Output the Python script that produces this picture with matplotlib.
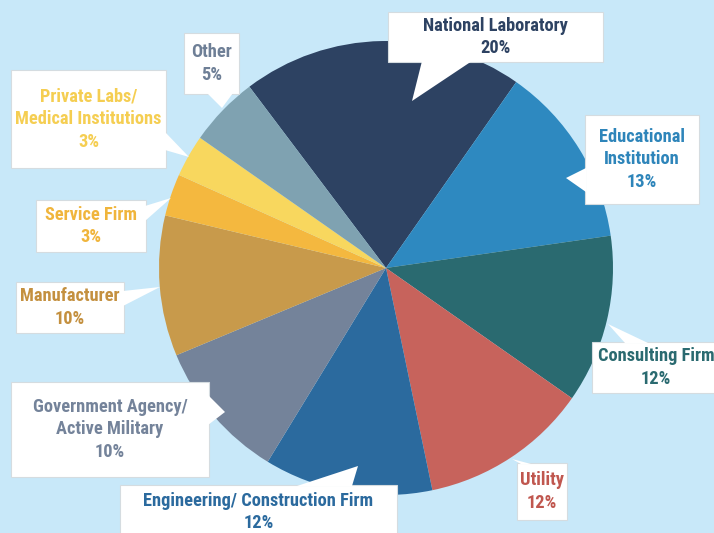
import matplotlib.pyplot as plt
from matplotlib.patches import Rectangle, Polygon

# --- data ---
labels = ['National Laboratory', 'Educational\nInstitution', 'Consulting Firm', 'Utility',
          'Engineering/ Construction Firm', 'Government Agency/\nActive Military', 'Manufacturer',
          'Service Firm', 'Private Labs/\nMedical Institutions', 'Other']
shares = [20, 13, 12, 12, 12, 10, 10, 3, 3, 5]
slice_colors = ['#2D4262', '#2E89C0', '#2A6A70', '#C7635C', '#2B6A9E',
                '#74839A', '#C89A4B', '#F4B83F', '#F8D75E', '#7FA2B1']
text_colors = ['#2D4262', '#2E85BA', '#2A6A70', '#C0574F', '#2B6A9E',
               '#74839A', '#C4903F', '#F0B53C', '#F5CE52', '#6E7F96']

# --- layout (pixel coords, y down): box (x0, y0, x1, y1), pointer (base a, base b, tip) ---
boxes = [(388, 12, 603, 62), (585, 115, 699, 204), (592, 342, 720, 393), (517, 463, 567, 520),
         (120, 485, 397, 545), (11, 382, 209, 477), (16, 282, 124, 333),
         (36, 200, 146, 252), (11, 70, 166, 168), (184, 33, 239, 94)]
pointers = [((422, 61), (472, 61), (412, 101)), ((586, 168), (586, 192), (566, 178)),
            ((625, 343), (648, 343), (608, 324)), ((521, 464), (531, 464), (512, 459)),
            ((297, 486), (352, 486), (358, 466)), ((208, 395), (208, 425), (225, 412)),
            ((123, 291), (123, 306), (160, 287)), ((145, 206), (145, 221), (171, 198)),
            ((165, 132), (165, 150), (189, 157)), ((207, 93), (233, 93), (222, 108))]

W, H = 714, 533
bg = '#C8E8F9'

fig = plt.figure(figsize=(W / 100, H / 100), dpi=100, facecolor=bg)
ax = fig.add_axes([0, 0, 1, 1])


def fy(y):
    return H - y


ax.pie(shares, colors=slice_colors, startangle=127, counterclock=False,
       center=(386, fy(268)), radius=227, wedgeprops=dict(linewidth=0))
ax.set_xlim(0, W)
ax.set_ylim(0, H)
ax.set_aspect('equal')
ax.axis('off')

font = ['Roboto Condensed', 'DejaVu Sans']
for lab, pct, tc, (x0, y0, x1, y1), (a, b, tip) in zip(labels, shares, text_colors, boxes, pointers):
    ax.add_patch(Rectangle((x0, fy(y1)), x1 - x0, y1 - y0, facecolor='white',
                           edgecolor='#D5DCE0', linewidth=0.8, zorder=5))
    ax.add_patch(Polygon([(a[0], fy(a[1])), (b[0], fy(b[1])), (tip[0], fy(tip[1]))],
                         closed=True, facecolor='white', edgecolor='none', zorder=6))
    cx = (x0 + x1) / 2
    cy = (y0 + y1) / 2 if y1 <= H else y0 + 27
    ax.text(cx, fy(cy), f'{lab}\n{pct}%', ha='center', va='center', color=tc,
            fontsize=13.2, fontweight='bold', family=font, linespacing=1.35, zorder=7)

fig.savefig('out.png', dpi=100, facecolor=bg)
